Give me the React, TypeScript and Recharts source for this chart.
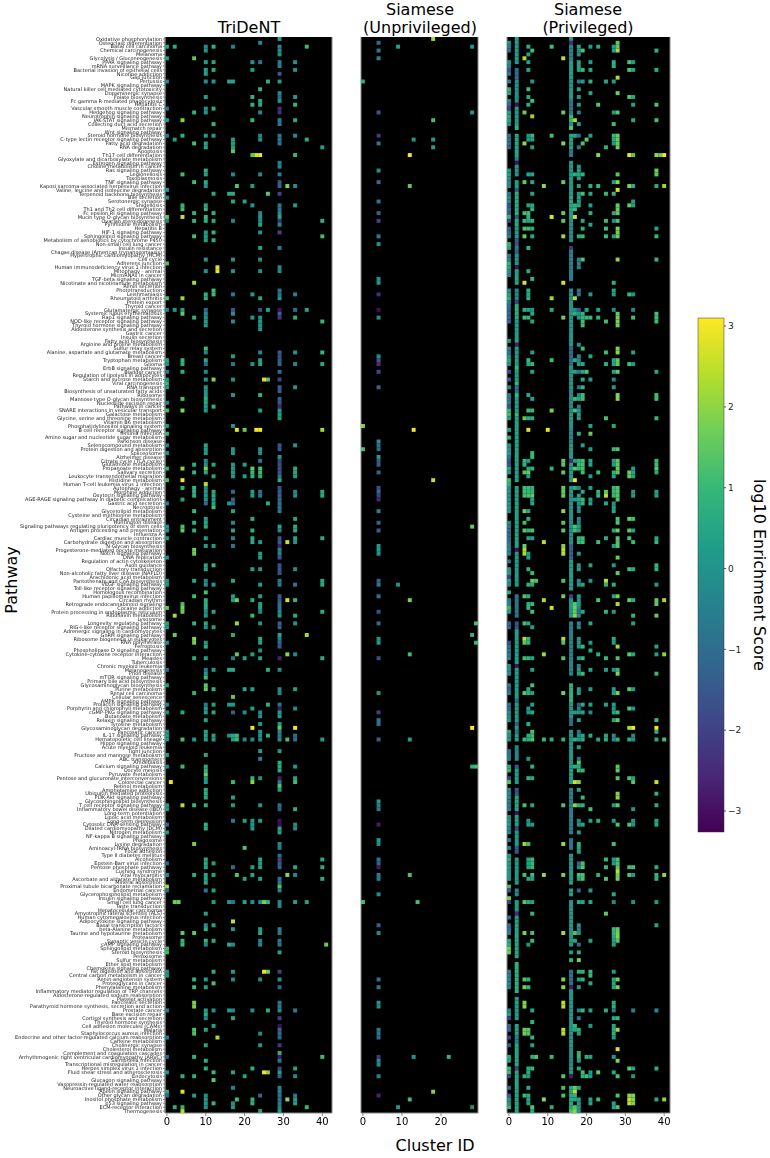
import React from 'react';
import { ScatterChart, Scatter, XAxis, YAxis, CartesianGrid, ReferenceLine, ReferenceArea } from 'recharts';

const PATHWAYS = [
  'Oxidative phosphorylation', 'Osteoclast differentiation', 'Basal cell carcinoma', 'Chemical carcinogenesis', 'Melanoma',
  'Glycolysis / Gluconeogenesis', 'PPAR signaling pathway', 'mRNA surveillance pathway', 'Bacterial invasion of epithelial cells', 'Nicotine addiction',
  'Gap junction', 'Pertussis', 'MAPK signaling pathway', 'Natural killer cell mediated cytotoxicity', 'Dopaminergic synapse',
  'Folate biosynthesis', 'Fc gamma R-mediated phagocytosis', 'Hepatitis C', 'Vascular smooth muscle contraction', 'Hedgehog signaling pathway',
  'Neurotrophin signaling pathway', 'JAK-STAT signaling pathway', 'Collecting duct acid secretion', 'Mismatch repair', 'Wnt signaling pathway',
  'Steroid hormone biosynthesis', 'C-type lectin receptor signaling pathway', 'Fatty acid degradation', 'RNA degradation', 'Apoptosis',
  'Th17 cell differentiation', 'Glyoxylate and dicarboxylate metabolism', 'Estrogen signaling pathway', 'Choline metabolism in cancer', 'Ras signaling pathway',
  'Legionellosis', 'Toxoplasmosis', 'TNF signaling pathway', 'Kaposi sarcoma-associated herpesvirus infection', 'Valine, leucine and isoleucine degradation',
  'Terpenoid backbone biosynthesis', 'Bile secretion', 'Serotonergic synapse', 'Shigellosis', 'Th1 and Th2 cell differentiation',
  'Fc epsilon RI signaling pathway', 'Mucin type O-glycan biosynthesis', 'Ovarian steroidogenesis', 'Pyrimidine metabolism', 'Hepatitis B',
  'HIF-1 signaling pathway', 'Sphingolipid signaling pathway', 'Metabolism of xenobiotics by cytochrome P450', 'Non-small cell lung cancer', 'Insulin resistance',
  'Chagas disease (American trypanosomiasis)', 'Hypertrophic cardiomyopathy (HCM)', 'Cell cycle', 'Adherens junction', 'Human immunodeficiency virus 1 infection',
  'Mitophagy - animal', 'MicroRNAs in cancer', 'TGF-beta signaling pathway', 'Nicotinate and nicotinamide metabolism', 'Renin secretion',
  'Phototransduction', 'Leishmaniasis', 'Rheumatoid arthritis', 'Protein export', 'Thyroid cancer',
  'Glutamatergic synapse', 'Systemic lupus erythematosus', 'Rap1 signaling pathway', 'NOD-like receptor signaling pathway', 'Thyroid hormone signaling pathway',
  'Aldosterone synthesis and secretion', 'Gastric cancer', 'Insulin secretion', 'Fatty acid biosynthesis', 'Arginine and proline metabolism',
  'Sulfur relay system', 'Alanine, aspartate and glutamate metabolism', 'Breast cancer', 'Tryptophan metabolism', 'Glioma',
  'ErbB signaling pathway', 'Bladder cancer', 'Regulation of lipolysis in adipocytes', 'Starch and sucrose metabolism', 'Viral carcinogenesis',
  'RNA transport', 'Biosynthesis of unsaturated fatty acids', 'Ribosome', 'Mannose type O-glycan biosynthesis', 'Nucleotide excision repair',
  'Pathways in cancer', 'SNARE interactions in vesicular transport', 'Galactose metabolism', 'Glycine, serine and threonine metabolism', 'Vitamin B6 metabolism',
  'Phosphatidylinositol signaling system', 'B cell receptor signaling pathway', 'Yersinia infection', 'Amino sugar and nucleotide sugar metabolism', 'Parkinson disease',
  'Selenocompound metabolism', 'Protein digestion and absorption', 'Spliceosome', 'Alzheimer disease', 'Citrate cycle (TCA cycle)',
  'Glutathione metabolism', 'Propanoate metabolism', 'Salivary secretion', 'Leukocyte transendothelial migration', 'Histidine metabolism',
  'Human T-cell leukemia virus 1 infection', 'Autophagy - animal', 'Morphine addiction', 'Oxytocin signaling pathway', 'AGE-RAGE signaling pathway in diabetic complications',
  'Gastric acid secretion', 'Necroptosis', 'Glycerolipid metabolism', 'Cysteine and methionine metabolism', 'Circadian entrainment',
  'Huntington disease', 'Signaling pathways regulating pluripotency of stem cells', 'Antigen processing and presentation', 'Influenza A', 'Cardiac muscle contraction',
  'Carbohydrate digestion and absorption', 'N-Glycan biosynthesis', 'Progesterone-mediated oocyte maturation', 'Notch signaling pathway', 'DNA replication',
  'Regulation of actin cytoskeleton', 'Axon guidance', 'Olfactory transduction', 'Non-alcoholic fatty liver disease (NAFLD)', 'Arachidonic acid metabolism',
  'Pantothenate and CoA biosynthesis', 'VEGF signaling pathway', 'Toll-like receptor signaling pathway', 'Homologous recombination', 'Human papillomavirus infection',
  'Circadian rhythm', 'Retrograde endocannabinoid signaling', 'Cocaine addiction', 'Protein processing in endoplasmic reticulum', 'Riboflavin metabolism',
  'Lysosome', 'Longevity regulating pathway', 'RIG-I-like receptor signaling pathway', 'Adrenergic signaling in cardiomyocytes', 'GnRH signaling pathway',
  'Ribosome biogenesis in eukaryotes', 'RNA polymerase', 'Ferroptosis', 'Phospholipase D signaling pathway', 'Cytokine-cytokine receptor interaction',
  'Measles', 'Tuberculosis', 'Chronic myeloid leukemia', 'Melanogenesis', 'Prion disease',
  'mTOR signaling pathway', 'Primary bile acid biosynthesis', 'Glycosaminoglycan biosynthesis', 'Purine metabolism', 'Renal cell carcinoma',
  'Cellular senescence', 'AMPK signaling pathway', 'Prolactin signaling pathway', 'Porphyrin and chlorophyll metabolism', 'cGMP-PKG signaling pathway',
  'Butanoate metabolism', 'Relaxin signaling pathway', 'Tyrosine metabolism', 'Glycosaminoglycan degradation', 'Pancreatic cancer',
  'IL-17 signaling pathway', 'Hematopoietic cell lineage', 'Hippo signaling pathway', 'Acute myeloid leukemia', 'Tight junction',
  'Fructose and mannose metabolism', 'ABC transporters', 'Amoebiasis', 'Calcium signaling pathway', 'Oocyte meiosis',
  'Pyruvate metabolism', 'Pentose and glucuronate interconversions', 'Colorectal cancer', 'Retinol metabolism', 'Amphetamine addiction',
  'Ubiquitin mediated proteolysis', 'PI3K-Akt signaling pathway', 'Glycosphingolipid biosynthesis', 'T cell receptor signaling pathway', 'Inflammatory bowel disease (IBD)',
  'Long-term potentiation', 'Lipoic acid metabolism', 'Long-term depression', 'Cytosolic DNA-sensing pathway', 'Dilated cardiomyopathy (DCM)',
  'Nitrogen metabolism', 'NF-kappa B signaling pathway', 'Phagosome', 'Lysine degradation', 'Aminoacyl-tRNA biosynthesis',
  'Focal adhesion', 'Type II diabetes mellitus', 'Alcoholism', 'Epstein-Barr virus infection', 'Pentose phosphate pathway',
  'Cushing syndrome', 'Viral myocarditis', 'Ascorbate and aldarate metabolism', 'Mineral absorption', 'Proximal tubule bicarbonate reclamation',
  'Endometrial cancer', 'Glycerophospholipid metabolism', 'Insulin signaling pathway', 'Small cell lung cancer', 'Taste transduction',
  'Hepatocellular carcinoma', 'Amyotrophic lateral sclerosis (ALS)', 'Human cytomegalovirus infection', 'Adipocytokine signaling pathway', 'Basal transcription factors',
  'beta-Alanine metabolism', 'Taurine and hypotaurine metabolism', 'Proteasome', 'Synaptic vesicle cycle', 'cAMP signaling pathway',
  'Sphingolipid metabolism', 'Steroid biosynthesis', 'Peroxisome', 'Sulfur metabolism', 'Ether lipid metabolism',
  'Chemokine signaling pathway', 'Fat digestion and absorption', 'Central carbon metabolism in cancer', 'Renin-angiotensin system', 'Proteoglycans in cancer',
  'Phenylalanine metabolism', 'Inflammatory mediator regulation of TRP channels', 'Aldosterone-regulated sodium reabsorption', 'Platelet activation', 'Pancreatic secretion',
  'Parathyroid hormone synthesis, secretion and action', 'Prostate cancer', 'Base excision repair', 'Cortisol synthesis and secretion', 'Thyroid hormone synthesis',
  'Cell adhesion molecules (CAMs)', 'Malaria', 'Staphylococcus aureus infection', 'Endocrine and other factor-regulated calcium reabsorption', 'Caffeine metabolism',
  'Cholinergic synapse', 'Cholesterol metabolism', 'Complement and coagulation cascades', 'Arrhythmogenic right ventricular cardiomyopathy (ARVC)', 'Salmonella infection',
  'Transcriptional misregulation in cancer', 'Herpes simplex virus 1 infection', 'Fluid shear stress and atherosclerosis', 'Endocytosis', 'Glucagon signaling pathway',
  'Vasopressin-regulated water reabsorption', 'Neuroactive ligand-receptor interaction', 'Apelin signaling pathway', 'Other glycan degradation', 'Inositol phosphate metabolism',
  'p53 signaling pathway', 'ECM-receptor interaction', 'Thermogenesis',
];

// [row, [col, value, col, value, ...]]
type RowCells = [number, number[]];

const TRIDENT_ROWS: RowCells[] = [
  [0, [29, .3]], [1, [24, -.3]], [2, [0, .5, 2, .7, 10, -.2, 12, .8, 17, -.5, 29, -.3, 36, 1]], [3, [10, 0, 29, -.2]], [4, [29, 0]],
  [5, [0, .3, 7, 1.5]], [6, [10, .3, 12, .5, 22, .1, 24, -.8, 29, -.5, 33, 0]], [7, [29, -.6]], [8, [10, .4, 12, .6, 22, .3, 33, 0]], [9, [10, .4, 29, -1.5]],
  [11, [0, -.2, 10, -.1, 12, .1, 16, .4, 17, .4, 26, .8, 29, .3]], [13, [24, .9]], [14, [29, -.3]], [15, [10, .3, 22, .8, 29, -1, 33, .2]], [16, [24, .5, 29, .1]],
  [17, [22, .9, 24, .6, 33, .9]], [18, [0, -.8, 10, 0, 12, .6, 29, -2.5]], [19, [7, .8, 10, .1, 24, -.2, 29, -2.5]], [21, [0, .3, 4, 1.9, 22, 1, 29, -.5, 33, .6]], [22, [12, .9, 29, -.7]],
  [25, [0, -.5, 4, .8, 10, .3, 12, .3, 24, -.3, 29, -.8, 33, -.2]], [26, [2, .3, 17, .3, 24, -.2, 29, -.8, 36, .7]], [27, [7, 1.2, 10, .5, 17, .3, 29, -.8]], [28, [10, .5, 17, .3, 40, .3]], [29, [17, 1.5]],
  [30, [22, 1.5, 23, 2.7, 24, 3, 33, 1]], [32, [29, -.5]], [33, [29, -.5]], [34, [10, .7]], [35, [4, 1.1, 10, .4, 17, -.3, 24, -.2, 29, -.5]],
  [37, [7, 1.1, 10, .6, 29, -1.5]], [38, [10, 0, 18, 1.4, 22, .3, 29, -1.3, 31, 1.9, 33, 0]], [39, [0, .2]], [40, [12, .6, 16, .6, 17, .6, 26, 1.5, 29, -2]], [41, [0, 0]],
  [42, [17, .5, 20, .4]], [43, [4, .9, 10, .5, 22, .2, 29, -.7, 33, .3]], [44, [4, 1.1, 10, .8, 29, -.7]], [45, [7, .9, 12, .8, 24, -.3, 29, -.2]], [46, [0, 1.5, 4, 2.6, 10, 1, 24, 0, 29, .5]],
  [47, [0, -.5, 7, .9, 10, .7, 12, .6, 17, -.5, 24, -.2, 29, -2.3, 40, .8]], [48, [24, .4, 29, -.3]], [50, [10, .2, 12, .8, 24, -.1, 29, -2]], [51, [7, 1.2, 10, .3, 40, 1.1]], [52, [10, .3, 12, .7]],
  [54, [24, .4, 29, -.5]], [57, [10, 0, 17, -.1, 24, -.1]], [58, [0, 1.3]], [59, [13, 2.8, 29, -.3]], [60, [10, .1, 13, 2.9, 17, 0, 24, 0, 29, -.3]],
  [63, [7, 2.3]], [65, [12, 1.1, 29, -.9]], [66, [10, .8, 12, 1.1, 17, -.7, 22, .2, 29, -.8, 33, -.4]], [67, [0, 1.3, 4, 2.1, 10, .8, 24, .5, 29, .1]], [70, [0, -.5, 2, .1, 4, .3, 10, -1.2, 17, -1.5, 24, -1.6, 26, .4, 29, -3, 33, -1, 36, .4]],
  [71, [4, 1.5, 10, -.1, 17, 0, 29, -1.3]], [72, [7, .8, 10, 0, 22, .2, 24, .1, 29, -2.2, 33, .7]], [73, [10, .2, 17, -.2, 24, .1, 40, .9]], [74, [10, .3, 24, .1]], [75, [24, .1]],
  [80, [10, 1.2]], [81, [10, -.3, 24, -.3, 29, -1.5, 33, 0, 40, 1]], [82, [17, .3, 29, -1.6]], [83, [0, .6, 4, .9, 10, .5, 24, .4, 29, -1.4]], [84, [0, 0, 4, .8, 10, -1, 17, -.8, 22, 0, 24, .5, 29, -1.2, 33, -.3, 40, .6]],
  [86, [0, -.6, 4, .8, 10, -.2, 29, -.9]], [88, [0, .1, 10, .1, 12, 1.9, 17, -.1, 25, 2.8, 26, 1.4, 29, -2]], [89, [0, 1]], [90, [0, .3, 10, .1, 29, -1.3, 33, 0]], [91, [10, .1, 29, -1.4]],
  [92, [10, .2, 17, 0, 24, .8]], [93, [4, 1.2, 10, .8, 29, -1.3]], [94, [0, -.3, 10, .5, 29, -1.5]], [95, [10, .3, 12, .8, 29, -2.5]], [96, [0, 1.2, 4, 1.9, 10, .2, 24, .3, 29, .2]],
  [97, [29, .4]], [98, [29, .4]], [100, [0, .3, 17, 0]], [101, [18, 2.9, 20, 1.6, 23, 3, 24, 3, 40, 2.2]], [102, [0, 1]],
  [105, [0, -.3, 10, .5, 29, -1.5, 33, .1]], [106, [10, .3, 17, .1, 24, .1, 29, -1.5]], [107, [0, .1, 10, .1, 17, .1, 24, -.1]], [108, [29, .1]], [109, [10, -.2, 24, -.7, 29, -2]],
  [110, [7, .8, 10, -.1, 12, .5, 17, .2, 20, .3, 29, -1.8]], [111, [0, .7, 4, 2, 10, 1.9, 17, .2, 22, 1.6, 24, 1.2, 29, -1.7, 33, .6]], [112, [7, .9, 10, .6, 17, .2, 22, 1, 24, 1, 29, -1.6, 33, .5]], [113, [12, .4, 17, .2, 20, .4, 22, .8, 24, .7, 29, -.8, 33, .3]], [114, [0, 1.3, 4, 3, 29, .7]],
  [115, [10, 2.4]], [116, [4, .9, 7, .9, 10, -.2, 29, -1.7]], [117, [7, .8, 10, 0, 12, .6, 17, -1, 22, .3, 24, -1, 29, -1.5, 33, -.3, 40, .6]], [118, [7, .8, 10, .1, 12, .5, 22, .3, 24, -.7, 29, -1.3, 33, -.2, 40, .6]], [119, [4, .4, 10, 0, 12, .3, 17, -1.3, 29, -1]],
  [120, [0, -.4, 10, -1, 12, .4, 16, 0, 17, -1, 26, .7, 29, -.9]], [121, [12, 1.2, 29, -.8]], [122, [7, 1, 17, .4, 29, -.8]], [124, [10, .3, 22, .7, 33, .4]], [125, [7, .8, 10, .5, 17, -.2]],
  [126, [0, .1, 4, 1.2, 10, .7, 29, .5, 33, .6]], [127, [0, .1, 4, 1.5, 7, .8, 17, .5, 22, .8, 29, -.3, 33, .5]], [129, [0, .2, 10, .2, 17, -.5, 22, .7, 29, -1.5, 33, .4, 40, .7]], [130, [22, .6, 24, .2, 29, -1.5, 31, 2.6, 33, .1]], [131, [10, .3, 12, .2, 17, -.8, 29, -2.7]],
  [132, [7, 1.7, 29, -.3]], [133, [7, 1.7, 24, .3, 29, -.5]], [134, [0, 0, 24, .3, 29, -1.5]], [136, [10, .5, 12, 1, 29, -1.6]], [137, [10, .5, 22, .4, 24, 0, 29, -1.6, 33, -.1]],
  [138, [29, -1.6]], [140, [0, .2, 7, .5, 10, -.3, 17, .5, 29, -.7, 40, .6]], [141, [0, .2, 10, -.1, 12, .2, 24, .3, 29, -.7, 33, -.7, 40, .6]], [143, [10, 1.2]], [144, [7, 1.1, 17, .3, 24, .3, 29, -1.5]],
  [145, [10, .7, 17, .2, 18, 1.7, 22, .6, 29, -1.5, 31, 2.7, 33, 1]], [146, [4, 1.2, 10, .7, 24, .4, 29, -.9]], [147, [0, 1.5, 4, 1.8, 10, .6, 24, .4, 29, -.7]], [148, [4, 1.6, 10, -.2, 12, .4, 24, -.3, 29, -.3, 40, .7]], [149, [2, 2.2, 10, .1, 22, 1, 29, 0, 33, .6]],
  [151, [0, .4, 7, .9, 10, .6, 18, 2.2, 24, 0, 29, -1.3, 33, .1]], [152, [0, .3, 10, 0, 12, .3, 29, -1.3]], [154, [2, 1.6, 17, .6, 29, .5, 36, 2.2]], [155, [7, 2, 24, .6, 29, -.5]], [156, [0, -.1, 7, 1.7, 10, .2, 24, .4, 29, -1.2]],
  [157, [10, .8, 29, -1.5]], [158, [24, 0]], [159, [18, 1.6, 22, .4, 31, 2, 33, -.2]], [160, [7, .7, 10, .3, 17, -.6, 20, .4, 24, .4, 29, -2.7, 40, .7]], [163, [0, -1, 10, -.7, 12, .2, 16, .6, 17, .6, 26, .7, 29, -.2]],
  [164, [10, .2]], [165, [10, 1.1]], [167, [0, .4, 10, 1.4]], [168, [10, 1.5, 12, .8, 20, .5, 22, .4, 29, -.3, 33, .3]], [169, [7, .8, 29, -.3]],
  [170, [17, 1.5]], [172, [0, -.2, 10, -.6, 12, .4, 16, .2, 17, .2, 26, .8, 29, -.7]], [173, [10, .2, 22, .4, 29, -2.8, 33, -.2]], [174, [0, -.2, 4, .5, 10, .3, 12, .5, 17, -1.4, 20, -.2, 24, -.2, 29, .3]], [175, [24, -.1, 29, .3]],
  [176, [10, .4]], [177, [24, .1, 29, .3]], [178, [22, 3, 29, 1.5, 33, 3]], [179, [0, .2, 10, .4, 24, -.1, 29, -.3]], [180, [0, .2, 10, .4, 12, .3, 16, -.1, 17, .5, 18, 1, 24, -.1, 26, .8, 29, -.4, 33, -1]],
  [181, [0, .3, 4, 1.2, 7, .2, 10, .3, 12, .2, 17, .3, 18, 1, 20, -.2, 22, -.2, 24, -.2, 29, -.1, 31, 1.2, 33, -1, 40, .2]], [184, [24, .3, 29, .2]], [185, [0, .3, 10, .5]], [186, [24, -.4]], [187, [29, .7]],
  [188, [0, -.1, 4, 1, 10, .6, 29, .7, 33, .1]], [189, [10, .9, 29, .7]], [190, [10, 1.7]], [191, [10, .3, 22, .8, 24, -.1, 29, -2.8, 33, .4]], [192, [1, 3, 10, .2, 17, 1, 22, 2, 29, -.7, 33, 1.1]],
  [193, [29, 1.3]], [194, [10, .7, 29, .2]], [195, [10, .7]], [196, [10, .5, 17, .4]], [198, [0, .3, 4, 2.5, 7, 1, 10, .8, 17, .2, 24, .1, 29, -1]],
  [199, [0, .2, 29, -1.2, 33, .7]], [202, [17, -.8, 20, .3, 22, .1, 24, .2, 29, -3]], [203, [0, -1, 10, .9, 22, .2, 29, -3.1, 33, -.2]], [204, [10, .7, 22, .2, 29, .4, 33, -.2]], [205, [0, .1, 29, .4]],
  [208, [7, 1.8, 29, -.4]], [209, [20, 1.3, 29, -.5]], [211, [29, -1]], [212, [10, .5, 24, .5, 29, -1.9, 40, .7]], [213, [0, -1.2, 10, .6, 12, .3, 24, .3, 29, -1.5]],
  [214, [10, .5, 17, -1, 22, .3, 24, .4, 29, -1.2, 33, .5, 40, .6]], [216, [0, -.2, 7, .7, 10, .5, 12, .4, 18, 1.3, 22, .5, 31, 2, 33, -.2]], [217, [10, .5, 20, .4, 24, .4, 29, -.8, 40, .7]], [218, [10, .5, 29, -.7]], [219, [0, 2.2, 29, 1.3]],
  [220, [0, -1, 10, -.8, 12, .3, 29, -.3]], [223, [2, 1.7, 3, 1.7, 12, .3, 16, .1, 17, -.8, 20, .5, 22, 0, 24, -.3, 25, 1.8, 26, .8, 29, -.3, 33, .3, 36, .4]], [224, [29, -.3]], [226, [10, .4]], [228, [17, 2.6]],
  [229, [10, -.2, 12, .4]], [230, [10, .8, 17, .1, 24, .3, 29, -.6]], [231, [4, 1.5, 7, 1.5, 24, .5, 29, -.6]], [233, [4, 1, 10, .9, 12, .6, 24, -.4, 29, -.8]], [234, [4, 1, 10, -.4, 16, .6, 17, -.3, 24, -.4, 29, -.8, 41, 1.6]],
  [235, [0, 1.1]], [236, [0, 1.1, 29, .4]], [241, [0, .2, 12, .7, 17, .2, 25, 2.9, 26, 1.6, 29, -2]], [242, [0, .2]], [243, [7, .9, 10, .3, 17, -.1, 24, -.2, 29, 0]],
  [244, [12, 1.3]], [245, [7, 1.1, 10, .4, 29, -1.2]], [249, [7, 1.8, 29, -.7]], [250, [7, 1.8, 29, -.7]], [251, [0, -.4, 10, .3, 12, -.1, 16, .2, 17, -.3, 22, 0, 26, .7, 29, -.1, 33, -.6]],
  [252, [10, .8]], [253, [10, -.3, 17, .6, 29, -2]], [255, [12, .4, 29, -3]], [256, [7, 1.3, 10, .5, 29, -1.2]], [257, [7, 1.3, 24, -.2, 29, -1.2]],
  [258, [0, -.5, 13, 2.3, 29, -1.2]], [260, [10, .5, 24, 0, 29, -2.2]], [262, [29, .8]], [263, [0, -1, 7, .9, 29, -2.8, 40, 1.1]], [264, [10, .7, 29, -.8]],
  [266, [10, .7, 22, .8, 29, -2, 33, .4]], [267, [0, .2, 12, 1, 17, .5, 25, 3, 26, 1.9, 29, .3]], [268, [4, .8, 7, .8, 20, .4, 29, -1.2, 33, -.2]], [269, [12, 1.5]], [271, [17, -.5, 29, -.4]],
  [272, [0, .8, 4, 2.8, 29, -.4]], [273, [0, -1, 7, .3, 10, 0, 24, -1.2, 29, -.8, 33, -.8]], [274, [10, .1, 18, 1.2, 22, .8, 29, -.8, 31, 2.1, 33, .3]], [275, [10, .1, 12, .9, 17, -.1, 22, .8, 29, -.6, 33, .3]], [276, [2, .7, 4, .8, 10, -.1, 17, .2, 29, -.4, 36, .9]],
  [277, [4, 2.3, 24, .4, 29, .2]],
];

const UNPRIVILEGED_ROWS: RowCells[] = [
  [0, [18, 2.2]], [1, [4, -1]], [2, [9, .4, 28, 0]], [3, [4, -.6]], [5, [4, -.3]], [11, [0, .6]], [19, [4, -1.5, 28, .1]], [21, [18, 1.2]], [25, [4, -2.2]],
  [26, [13, .1, 18, .2]], [27, [4, -.7]], [28, [18, .4]], [30, [12, 3]], [34, [4, -.1]], [37, [4, -1]], [38, [12, 1.5]], [42, [4, -.8]], [45, [4, -1.3]],
  [47, [4, -2]], [51, [4, -.6]], [53, [4, -.1]], [62, [4, 0]], [63, [4, 0]], [66, [4, -2.5]], [70, [4, -3]], [72, [4, -.2]], [82, [4, -.2]], [83, [4, -1.5]],
  [84, [4, -2.4]], [86, [4, -1.8]], [90, [4, -1.2]], [100, [0, 1.9]], [101, [13, 3]], [104, [4, -.1]], [105, [4, -1]], [106, [0, 1.3, 4, -1]], [108, [4, .2]],
  [109, [4, -1.4]], [110, [4, -1.4]], [112, [4, -1.2]], [114, [18, 2.5]], [116, [4, -1.8]], [117, [4, -1]], [118, [4, -2]], [119, [4, -2.6]], [122, [4, -.5]],
  [125, [4, -1.2]], [126, [28, 1.6]], [127, [4, -1.3]], [131, [4, .2]], [132, [4, .2]], [133, [4, 0]], [140, [4, -1.3]], [141, [4, -.8, 9, 0]], [144, [4, -.8]],
  [145, [12, 1.8]], [148, [4, -1.7]], [151, [4, -1, 29, 1.2]], [154, [28, .9]], [155, [4, .1]], [156, [4, .2, 29, 1]], [159, [12, 1.1]], [160, [4, -1.7]],
  [169, [4, 0]], [174, [4, -2]], [176, [4, -.7]], [177, [4, -.7]], [178, [28, 3.1]], [181, [4, -1.3, 12, .3]], [188, [28, .8, 29, 1.2]], [197, [4, .1]],
  [198, [4, -.6]], [199, [4, -.7]], [203, [4, -2.8]], [207, [4, .1]], [208, [4, -.2]], [212, [4, -.9]], [213, [4, -1.2]], [214, [4, -2.8]], [216, [4, -.6, 12, 1.3]],
  [217, [4, -.7]], [221, [4, -.2]], [223, [0, 1.2, 14, 1.2]], [229, [4, -1.3]], [231, [4, -.3]], [243, [4, -1]], [245, [4, -.8]], [249, [4, .1]], [250, [4, -.2]],
  [256, [4, -.6]], [257, [4, -.8]], [258, [4, -1]], [263, [4, -2.3, 13, .1, 22, .9]], [264, [4, -.2]], [265, [4, -.2]], [268, [4, -.4]], [272, [18, 1.9]],
  [273, [4, -2.6]], [274, [12, 1.1]], [276, [9, .1, 28, -.2]],
];

const PRIVILEGED_ROWS: RowCells[] = [
  [1, [28, 1.5]], [2, [5, .7, 11, 1.1, 18, .4, 21, .3, 23, .6, 27, .3, 28, 1.5]], [3, [6, 1.1, 18, -.1, 19, 1.3, 27, .3, 28, 2.2, 38, .8]], [4, [5, .3, 18, -.1]], [5, [4, 2.4, 14, 2.5]],
  [6, [5, .4, 18, .3, 21, .3, 27, .8, 31, 1.3, 32, .3]], [7, [18, .4, 27, .8]], [8, [5, .5, 18, .4, 19, 1, 21, .5, 31, 1.3, 32, .5, 38, .7]], [10, [28, 2.3]], [11, [6, .1, 18, -.8, 19, .2, 21, .8, 25, .5, 27, .3]],
  [13, [5, 1.1, 18, .4]], [14, [21, .5, 28, 1.7]], [15, [5, .5, 18, .1, 31, 1.4, 32, .5]], [16, [6, 1.1]], [17, [5, .7, 18, .2, 23, 1.4, 32, .4, 38, 1.3]],
  [19, [4, 1.6, 14, 1.6, 18, -.5, 27, .3, 28, 1.4]], [20, [6, 2.1]], [21, [17, 2.2, 32, .5, 38, 1.2]], [22, [18, .1, 27, 1.1]], [25, [5, 0, 6, 1, 11, 1.2, 17, .5, 18, -1, 21, .3, 27, 1, 28, 1.6]],
  [26, [5, .1, 6, .3, 20, 1.5, 27, .7, 28, 1.6]], [27, [4, 2.1, 14, 2, 19, 1.3, 27, .3, 28, 1.5]], [28, [6, .3, 18, -.8, 25, .8, 28, 1.7]], [30, [23, 2, 31, 2.9, 32, 1.5, 38, 2.1, 39, 1.6, 40, 3.1]], [33, [18, .2]],
  [34, [18, .3, 38, 1.6]], [35, [5, .4, 6, .5, 17, .7, 18, .5, 19, .8, 28, 1.4, 38, 1.5]], [36, [18, .2]], [37, [4, 1.5, 6, .6, 14, 1.6, 27, .3, 28, 2]], [38, [9, 2.1, 18, .3, 21, .8, 23, 1, 31, 1.9, 32, .7, 38, .7, 40, 2.2]],
  [39, [28, 2.8]], [40, [6, .4, 18, .1, 19, 1.2, 21, .5, 25, 1, 27, .9]], [41, [18, .3]], [42, [18, .3, 32, .3]], [43, [5, .4, 6, .5, 17, .7, 18, .5, 21, .3, 28, 1.5, 31, 1.5, 32, .3]],
  [44, [6, .8, 17, 1, 28, 1.6]], [45, [4, 1.1, 5, 1.1, 14, 1.6, 21, .7, 27, .6, 28, 1.5]], [46, [5, .8, 11, 2.8, 17, 2.6]], [47, [4, 1, 5, .5, 6, .9, 14, 1.5, 19, .5, 25, 1, 27, -.2, 28, 1.3]], [48, [21, .5]],
  [49, [4, 1.3, 5, 1.1, 6, .7, 19, .7, 25, 1.2, 28, 1.8, 38, .4]], [50, [28, 1.7]], [51, [4, 1.6, 6, .5, 14, 2.2, 18, .7, 19, .9, 25, 1.1, 27, .2, 28, 1.7, 38, 1]], [54, [5, .8]], [57, [18, -.5, 19, 1.3, 28, 2, 38, .9]],
  [58, [18, -.4]], [59, [18, -.4]], [60, [5, .6]], [62, [6, .9]], [63, [4, 2.8, 14, 2.7, 27, .8]],
  [65, [5, .7, 18, -.8, 27, .4]], [66, [5, .5, 18, -.8, 21, .2, 27, .3, 31, 1, 32, .1]], [67, [5, .8, 11, 2.2, 17, 2.3]], [70, [4, .7, 5, .4, 6, .2, 11, .6, 17, -.2, 18, -1.5, 20, .6, 23, .4, 27, -.3, 32, -.3]], [71, [6, .5, 17, .8, 18, 0, 19, .9, 28, 1.6, 38, 1.2]],
  [72, [4, 1.1, 5, .9, 14, 1.7, 18, .1, 19, .9, 20, 1, 21, 1, 23, .8, 28, 1.7, 32, 1.2, 38, 1.1]], [73, [6, .5, 19, 1.1, 25, 1.1, 28, 1.7, 38, 1.1]], [74, [19, 1.1, 28, 1.7]], [79, [18, 0]], [80, [19, 1.1, 28, 1.8]],
  [81, [6, .4, 25, 1.1, 28, 2, 32, .4]], [82, [18, -.3, 21, .5]], [83, [5, 1, 11, 1.1, 17, .6, 18, -.5, 27, .5, 28, 1.5]], [84, [5, .5, 6, .9, 18, .2, 19, .5, 25, .8, 27, .5, 28, 1.5, 31, 1.1, 32, .2]], [86, [6, .4, 17, .5, 18, -.7, 19, .5, 20, 1.3, 27, .5, 28, 1.5, 38, .5]],
  [88, [19, .6, 21, .2, 27, -.2]], [90, [18, -1, 19, .9, 27, .2]], [92, [5, .5, 18, -.5, 19, 1.1, 28, 1.9, 38, 1.1]], [93, [6, .4, 17, 1, 18, .4, 19, 1.1, 28, 1.9, 38, 1.1]], [95, [18, -.8]],
  [96, [5, 1, 6, 1, 11, 1.8, 17, 1.3, 18, .1]], [97, [18, .2]], [98, [4, 1.5, 5, .7, 6, .7, 18, .2, 25, 1.2, 38, 1]], [100, [21, .4, 27, .5]], [101, [5, 2.8, 10, 2.9]],
  [102, [18, .8, 21, 1.6]], [105, [19, .4]], [106, [21, .3, 27, 1, 28, 1.3]], [107, [6, 1]], [108, [6, 1]],
  [109, [4, .9, 5, .3, 14, 1.5, 17, .3, 18, .8, 19, 1.2, 21, .5, 27, .4, 28, 1.5, 38, 1]], [110, [4, .9, 14, 1.5, 18, 1, 19, 1.2, 21, .5, 27, .3, 28, 1.5, 38, 1.1]], [111, [5, .5, 6, .8, 11, .9, 17, 1.5, 18, .8, 19, 1.2, 28, 1.6, 32, .3, 38, 1.5]], [112, [4, 1.4, 5, 1.6, 14, 1.5, 19, 1.1, 23, 1, 27, .8, 28, 1.5, 31, 1.6, 32, .4, 38, .6]], [113, [5, .4, 21, .3, 27, .4, 31, 1.5, 32, .4]],
  [114, [17, 3]], [116, [4, 1.1, 5, 1.1, 6, .8, 14, 1.6, 17, .6, 18, -.4, 21, .3, 27, 1, 28, 1.3]], [117, [4, 1.1, 5, .9, 6, .9, 14, 1.5, 19, .5, 23, .9, 25, 1.5, 27, 1, 28, 1.3, 32, .1, 38, .4]], [118, [4, 1.1, 5, 1.2, 6, 1.5, 14, 1.6, 18, .3, 23, .9, 25, 2.5, 27, 1, 28, 1.3, 32, .1, 38, .4]], [119, [6, .5, 17, .2, 18, .4, 19, 1, 21, .3, 28, 1.3]],
  [120, [6, .5, 18, -.1, 19, .9, 21, .5, 25, .6, 27, -.1]], [121, [18, -.1, 27, .4]], [122, [4, 1.7, 5, .6, 14, 2.1, 18, -.1, 27, .5]], [124, [5, .7, 18, -.3, 28, 1.3, 31, 1.6, 32, 1.1]], [125, [4, 1.1, 14, 1.4, 18, -.5, 28, 1.3]],
  [126, [17, 1.3, 18, .3]], [127, [4, 1.4, 5, .9, 6, 1.3, 14, 1.5, 17, 1.2, 18, .3, 27, .5, 28, 1.7, 31, 1.5, 32, .4]], [129, [5, .3, 6, .4, 18, .9, 19, 1, 25, .7, 28, 1.4, 31, 1.2, 38, .5]], [130, [9, 2.4, 18, .9, 19, 1.1, 23, 1.1, 28, 1.3, 32, 1, 38, 1]], [131, [4, 1.7, 14, 1.9, 27, .3, 28, 1.4]],
  [132, [4, 2.3, 14, 2.4]], [133, [4, 2.2, 5, .3, 14, 2.5, 18, .2]], [134, [5, .4, 28, 1.5]], [136, [18, .1, 21, .4, 27, .2, 38, .9]], [137, [5, .7, 18, .3, 31, 1.1, 32, .7, 38, .9]],
  [138, [6, 1, 28, 1.5]], [140, [6, 1.7, 7, 1.3, 14, 1.3, 18, -.2, 21, .1, 25, 2.5]], [141, [5, .8, 6, .6, 18, .1, 19, .5, 25, .8, 27, .8, 38, .2]], [144, [4, 1.4, 5, .8, 14, 1.7, 18, .1, 27, .4, 28, 1.8]], [145, [9, 2.3, 18, 0, 23, 1.3, 31, 1.6, 32, .7, 38, 1.5, 40, 2.3]],
  [146, [5, .7, 6, .9, 17, 1.4, 18, .2, 28, 2.3, 38, 1.5]], [147, [5, .9, 11, 2.7, 17, 1.7, 18, -.5]], [148, [6, 1.2, 17, 1.5, 18, -1, 19, .6, 25, .9, 27, .2]], [149, [17, 2, 18, -.5, 32, .9, 38, 1.6]], [151, [4, 1.2, 5, .6, 18, -.3, 21, .5, 32, .4]],
  [152, [6, .3, 18, -.3]], [155, [4, 2.5, 5, .9, 14, 2.4, 18, .1, 27, .6]], [156, [4, 1.4, 5, .9, 14, 1.3, 18, .1, 21, .2, 27, .3]], [157, [18, .1, 19, 1, 28, 2.2, 38, .5]], [158, [21, .7]],
  [159, [9, 2.2, 23, .8, 31, 1.5, 32, .5, 38, .3, 40, 2]], [160, [4, 1.1, 5, .9, 6, .5, 14, 1.3, 18, .2, 19, .9, 25, 1, 28, 1.3]], [162, [18, -.4]], [163, [6, .3, 18, .1, 21, .4, 25, .4, 27, .1, 28, .9]], [164, [18, .3, 19, 1.1, 28, 1.9, 38, 1]],
  [167, [6, 1.2]], [168, [5, .5, 18, .3, 21, .3, 27, .3, 31, 1.5, 32, .3]], [169, [4, 1.4, 5, .7, 6, .4, 14, 1.8, 18, .3, 27, .4, 28, 1.8]], [172, [6, .3, 18, -1.5, 19, .6, 21, .4, 25, .4, 27, .3]], [173, [5, .1, 18, -.6, 27, .1, 31, 1.3, 32, .2]],
  [174, [5, .1, 6, .6, 17, .3, 18, .1, 19, .5, 21, -.3, 27, .5, 28, 1]], [176, [18, .4, 27, .5, 28, 1.6, 38, 1.1]], [177, [5, .7]], [178, [31, 2.2, 32, 3, 38, 3.1]], [179, [6, 1.3, 18, -.7, 38, .8]],
  [180, [5, .7, 6, 1, 18, -.1, 19, .5, 21, .7, 25, .5, 27, -.2, 32, -.2]], [181, [4, 1, 5, .6, 6, 1.4, 9, 1, 11, .7, 14, .8, 17, .8, 18, .1, 19, .7, 23, .5, 25, .6, 27, -.1, 28, .8, 31, .7, 32, -.1, 38, .6, 40, 1.2]], [183, [18, .3]], [186, [5, .1, 18, -1]], [187, [18, 1.4]],
  [188, [6, .7, 17, .8, 18, .6, 28, 1.4]], [189, [18, .9, 19, .9, 28, 1.5]], [191, [5, .9, 6, .7, 28, 1.4, 31, 1.3, 32, .4]], [192, [17, 2.7, 18, 1.9, 32, 1.4, 38, 2.6]], [194, [18, .5]],
  [195, [28, 1.9, 38, .8]], [196, [19, 1, 28, 2]], [198, [4, 1.2, 6, .5, 14, 1.3, 17, 2, 18, .7, 19, .8, 27, .2, 28, 1.6, 38, .6]], [199, [21, 1.2, 32, .1]], [202, [5, 0, 18, -.3, 21, .3, 23, .6, 27, .1, 32, .2, 38, .5]],
  [203, [5, .2, 6, .2, 18, .1, 19, .5, 28, 1.3, 31, 1.3, 32, .1, 38, .5]], [205, [18, .3]], [208, [4, 2.1, 5, 1.1, 14, 2.2, 18, .8, 27, 1.2]], [209, [18, .5]], [210, [18, .4]],
  [212, [5, .4, 6, 1, 25, 1, 27, .3, 28, 1.2]], [213, [5, .4, 6, 1, 18, -1.3, 19, 1.2, 27, .3, 28, 1.2]], [214, [5, .4, 6, 1, 18, -.3, 19, 1.4, 25, 1, 28, 1.5, 31, 1.1, 32, 1.2, 38, .6]], [215, [28, 2.4]], [216, [4, 1.2, 6, 1.1, 9, 2.1, 14, 1.8, 18, 1.2, 19, 1.2, 23, .8, 28, 1.7, 31, 1.3, 32, .3, 38, .9, 40, 2]],
  [217, [5, .5, 6, .4, 18, .4, 19, 1.2, 25, 1.3, 28, 1.7, 38, .9]], [220, [18, -1.3, 21, .2]], [221, [27, .7]], [223, [4, 1.4, 5, .6, 6, .5, 18, .6, 19, .5, 21, .5, 27, -.2, 32, 0, 38, .2]], [226, [6, 1, 25, 1.5]],
  [229, [18, 0, 38, .4]], [230, [18, -.4, 27, 1, 28, 1.5]], [231, [4, 1.8, 6, 1.2, 14, 2.3, 17, 1.3, 18, -.2, 27, .8, 28, 1.8]], [232, [27, .5, 28, 1.9]], [233, [6, 1, 17, .5, 21, .3, 27, .3, 28, 1.3]],
  [234, [5, .1, 18, -1, 27, .3]], [236, [18, .7]], [238, [18, 1.9]], [241, [18, .8, 19, .8, 21, 1, 27, .2]], [242, [21, 1]],
  [243, [4, 1.3, 5, .8, 14, 1.9, 18, .3, 19, .9, 27, .5, 28, 1.7]], [244, [21, .6, 27, .5]], [245, [4, 1.8, 5, .9, 14, 2.1, 18, .2, 27, .5, 28, 1.8]], [249, [4, 1.9, 14, 2.4, 27, .7]], [250, [4, 1.9, 14, 2.4, 27, .7]],
  [251, [6, .5, 18, -.5, 19, 1, 21, .4, 25, .6, 27, -.5, 32, -.5, 38, -.2]], [253, [18, -.9, 27, .6, 28, 1]], [254, [6, .9]], [255, [17, 1, 21, .2, 27, .5]], [256, [4, 1.7, 5, 1.5, 14, 2.4, 17, .5, 18, .8, 27, .7, 28, 2.1]],
  [257, [4, 1.7, 5, 1.3, 14, 2.4, 18, .3, 27, .7]], [258, [6, .9, 27, .2]], [260, [6, .4]], [261, [28, 2.7]], [262, [18, .8]],
  [263, [6, .7, 7, 1.4, 11, 1, 18, 1, 20, .8, 21, .4, 27, .2]], [264, [18, .2, 28, 1.9]], [266, [5, .6, 6, 1, 18, .5, 31, 1.5, 32, .5, 38, .7]], [267, [5, .7, 19, 1.1, 21, .3, 23, 1.5, 27, .6]], [268, [4, .7, 5, .2, 14, 1.4, 19, .8, 20, 1.2, 21, .3, 28, 1.3, 32, .1]],
  [271, [5, .6, 14, 1.2, 17, 1.6, 18, .3]], [272, [17, 2.4]], [273, [4, 1, 5, .7, 14, 1.2, 17, .8, 28, 1.3, 31, 2, 32, 1.9]], [274, [5, .4, 9, 2.1, 17, .5, 18, .3, 21, .5, 23, 1, 31, 2.4, 32, 1.9, 38, .6, 40, 2]], [275, [5, .4, 18, .3, 21, .5, 27, .4, 31, 2.5, 32, 1.9]],
  [276, [6, 1.4, 11, .6, 17, 1.4, 18, .1, 27, .5, 28, 1.3]], [277, [6, .5, 17, 2, 18, 0]],
];

// cluster 0 of the privileged panel: [row, value]
const PRIVILEGED_C0: number[][] = [
  [1, 0], [2, -.5], [3, -1], [6, 0], [7, -.5], [8, -1.5], [9, -.8], [11, -.5], [13, .7], [14, .4], [16, -.3], [17, -1], [18, -2], [19, .3], [20, .6], [21, .5], [22, -.2],
  [25, -.8], [26, -1], [27, -1], [28, -1.3], [34, .3], [35, .3], [36, -.2], [37, -.3], [38, -.3], [40, -.6], [41, -.3], [42, -.3], [43, -1.5], [44, -1], [45, -1.4], [46, .9], [47, -2],
  [49, -1.3], [50, -1], [51, -.6], [53, .9], [54, .4], [56, -.5], [57, -.5], [58, .8], [59, .4], [60, .1], [61, -.3], [65, 0], [66, .3], [67, .7], [68, -.5],
  [69, -1], [70, -1.3], [71, -1.2], [72, -1.3], [73, -1.3], [78, .1], [80, -.5], [81, -.8], [82, 0], [83, .5], [84, -.1], [86, -1.7], [88, -1.2], [90, -.2],
  [92, -.8], [93, -.7], [94, -.5], [95, -1.5], [96, 1], [97, 1.1], [98, .3], [101, .4], [103, .8], [105, 0], [106, .1], [107, .2], [108, -.8], [109, -1.5], [110, -1.5], [111, .4], [112, .1],
  [114, 1.1], [115, .8], [116, 0], [117, 0], [118, -.1], [119, 0], [120, 0], [121, .1], [122, 0], [125, -.3], [126, -.6], [127, -.9], [128, -1], [129, -1], [130, -.8], [131, -.6], [132, -.5], [133, -.4],
  [135, -1], [137, .2], [138, .2], [139, -2], [140, .3], [141, -.1], [143, .6], [145, -.5], [146, -.3], [147, 1], [148, .2], [151, -1.2], [152, -1.2],
  [156, -1.8], [157, -1], [158, -.8], [159, -.7], [160, -.5], [162, 0], [163, -.1], [164, -.1], [167, -.7], [168, -1.4], [169, -.7],
  [172, -.9], [173, -1], [174, -.2], [175, -.2], [176, .1], [179, .7], [180, .2], [181, .2], [184, -.8], [185, -.8], [186, -.6], [188, .7], [189, .9], [191, -2], [192, 1.3],
  [194, -.2], [195, -.2], [196, -.2], [197, -.6], [198, -.7], [199, -.5], [201, 0], [202, .1], [203, .2], [204, -.3], [205, -.3], [207, -.7], [209, -.5],
  [211, .2], [212, .6], [213, .2], [214, .2], [215, .1], [216, .2], [217, .1], [219, 1.2], [220, -1.5], [222, 1.8], [223, -2], [227, -.8], [229, -1], [230, -.9], [231, -.6],
  [233, .6], [234, .6], [235, 1.7], [236, 1.7], [241, -.5], [242, -.5], [243, -.3], [244, -.4], [245, -.5], [251, -.5], [252, .3], [253, -2], [255, -1.2], [256, -1.1], [258, -2], [260, -1.5],
  [263, .7], [264, .4], [266, 1], [267, 1], [268, -2], [271, -1], [273, -1.3], [274, .1], [275, .1], [276, 1],
];

// clusters 2 and 16 of the privileged panel are nearly solid: [first row, last row, value]
const PRIVILEGED_C2: number[][] = [
  [0, 6, .3], [8, 10, -1], [11, 16, 0], [17, 17, -3], [18, 22, .2], [23, 23, .9], [25, 30, .5], [31, 31, -.5], [32, 32, -3], [33, 35, .1], [37, 38, .3], [39, 39, -1.5], [40, 45, .7], [46, 46, -1.6],
  [47, 48, .6], [49, 51, .2], [52, 53, -1.5], [54, 54, -.6], [55, 55, -1.3], [56, 58, .2], [59, 59, -3], [60, 63, .4], [65, 67, -.3], [68, 68, -2], [69, 72, .7], [73, 77, .2], [78, 78, .5], [79, 79, -2.8],
  [80, 84, .2], [85, 85, 1], [86, 88, .3], [89, 89, 1], [90, 91, -.8], [92, 92, 1], [93, 96, .3], [97, 97, 1], [98, 114, .4], [116, 131, .4], [132, 132, -3], [133, 141, .2], [144, 149, -.8], [151, 152, -1.6],
  [153, 161, .3], [162, 162, -3], [163, 170, .3], [171, 171, -1], [172, 176, .3], [177, 177, -1.5], [178, 178, .3], [179, 179, -.8], [180, 181, .3], [183, 186, -.3], [188, 188, -1.5], [189, 192, .3],
  [194, 195, -1.5], [196, 199, .5], [200, 200, -3], [201, 203, .3], [204, 204, -2], [205, 208, .2], [209, 210, -1.5], [212, 218, .2], [220, 221, -.3], [223, 225, .3], [226, 226, -2.5], [227, 228, .3],
  [229, 237, .5], [239, 246, .8], [248, 253, .3], [255, 257, .4], [258, 259, -.5], [260, 265, .5], [266, 266, -2], [267, 277, .5],
];

const PRIVILEGED_C16: number[][] = [
  [0, 0, .2], [1, 1, -2.5], [2, 5, -.3], [6, 10, .3], [11, 12, 0], [13, 15, .2], [16, 19, -.7], [20, 21, 1], [22, 22, 0], [23, 23, 1.4], [25, 28, .4], [29, 30, -.7], [32, 40, .2], [41, 44, .5], [45, 46, .2],
  [47, 52, -.1], [54, 54, -2.2], [55, 62, -.5], [65, 68, 0], [69, 79, .1], [80, 84, -1], [85, 90, .1], [91, 96, -.2], [97, 100, .2], [101, 104, -.3], [105, 108, .2], [109, 109, -2.5], [110, 114, .3],
  [116, 122, .1], [123, 130, 0], [131, 134, -1.3], [135, 142, .3], [144, 144, -2], [145, 149, .2], [151, 164, -.4], [167, 171, .8], [172, 175, .1], [176, 177, -1], [179, 187, .1], [188, 192, .3],
  [194, 205, -.5], [207, 209, -.8], [211, 218, .2], [220, 221, .3], [223, 234, .1], [236, 236, .1], [238, 238, .8], [241, 244, -.8], [245, 245, -2.8], [246, 260, .1], [261, 265, -.2], [266, 267, .2],
  [268, 268, -2.8], [271, 276, .5], [277, 277, 1.3],
];

const CLUSTER_TICKS = [0, 10, 20, 30, 40];
const SCORE_TICKS = [3, 2, 1, 0, -1, -2, -3];

const VMIN = -3.26;
const VMAX = 3.1;
const ROWS = 278;
const CELL = 3.95;
const VIRIDIS = ['#440154', '#482878', '#3e4989', '#31688e', '#26828e', '#1f9e89', '#35b779', '#6ece58', '#b5de2b', '#fde725'];
const FONT = '"DejaVu Sans", sans-serif';
const rowTicks = PATHWAYS.map((_, i) => i);

function hexToRgb(hex: string) {
  return [1, 3, 5].map(i => parseInt(hex.slice(i, i + 2), 16));
}

function viridis(value: number) {
  const t = Math.min(1, Math.max(0, (value - VMIN) / (VMAX - VMIN))) * (VIRIDIS.length - 1);
  const i = Math.min(VIRIDIS.length - 2, Math.floor(t));
  const a = hexToRgb(VIRIDIS[i]);
  const b = hexToRgb(VIRIDIS[i + 1]);
  const c = a.map((v, k) => Math.round(v + (b[k] - v) * (t - i)));
  return `rgb(${c[0]},${c[1]},${c[2]})`;
}

function fromRows(rows: RowCells[]) {
  const points: { row: number; col: number; value: number }[] = [];
  rows.forEach(([row, pairs]) => {
    for (let i = 0; i < pairs.length; i += 2) points.push({ row, col: pairs[i], value: pairs[i + 1] });
  });
  return points;
}

function fromRuns(col: number, runs: number[][]) {
  const points: { row: number; col: number; value: number }[] = [];
  runs.forEach(([first, last, value]) => {
    for (let row = first; row <= last; row++) points.push({ row, col, value });
  });
  return points;
}

const privilegedPoints = [
  ...fromRows(PRIVILEGED_ROWS),
  ...PRIVILEGED_C0.map(([row, value]) => ({ row, col: 0, value })),
  ...fromRuns(2, PRIVILEGED_C2),
  ...fromRuns(16, PRIVILEGED_C16),
];

function CellShape(props: any) {
  const { cx, cy, payload } = props;
  return <rect x={cx - CELL / 2} y={cy - CELL / 2} width={CELL} height={CELL} fill={viridis(payload.value)} />;
}

// the default tick wraps long names, this one keeps them on one line
function RowTick(props: any) {
  const { x, y, payload } = props;
  return (
    <text x={x} y={y} dy="0.35em" textAnchor="end" fontSize={5} fill="#222">
      {PATHWAYS[payload.value]}
    </text>
  );
}

function NoMark() {
  return null;
}

interface PanelProps {
  left: number;
  width: number;
  marginLeft: number;
  marginRight: number;
  columns: number;
  data: { row: number; col: number; value: number }[];
  showLabels?: boolean;
}

function HeatmapPanel({ left, width, marginLeft, marginRight, columns, data, showLabels = false }: PanelProps) {
  return (
    <div style={{ position: 'absolute', left, top: 0, filter: 'blur(0.3px)' }}>
      <ScatterChart width={width} height={1158} margin={{ top: 37, right: marginRight, bottom: 0, left: marginLeft }}>
        <CartesianGrid fill="#000" fillOpacity={1} stroke="none" horizontal={false} vertical={false} />
        <XAxis
          type="number"
          dataKey="col"
          domain={[-0.5, columns - 0.5]}
          ticks={CLUSTER_TICKS.filter(t => t < columns)}
          interval={0}
          height={45}
          tick={{ fontSize: 10, fill: '#000' }}
          tickSize={3}
          tickMargin={2}
          stroke="#888"
        />
        <YAxis
          type="number"
          dataKey="row"
          reversed
          domain={[-0.5, ROWS - 0.5]}
          ticks={showLabels ? rowTicks : []}
          interval={0}
          width={showLabels ? 165 : 0}
          hide={!showLabels}
          tick={<RowTick />}
          tickSize={2}
          tickMargin={1}
          stroke="#888"
        />
        <Scatter data={data} shape={<CellShape />} isAnimationActive={false} />
        <ReferenceLine x={-0.5} stroke="#888" />
        <ReferenceLine x={columns - 0.5} stroke="#888" />
      </ScatterChart>
    </div>
  );
}

function Colorbar() {
  return (
    <div style={{ position: 'absolute', left: 690, top: 0 }}>
      <ScatterChart width={60} height={1158} margin={{ top: 318, right: 0, bottom: 326, left: 8 }}>
        <defs>
          <linearGradient id="viridisBar" x1="0" y1="1" x2="0" y2="0">
            {VIRIDIS.map((c, i) => (
              <stop key={c} offset={i / (VIRIDIS.length - 1)} stopColor={c} />
            ))}
          </linearGradient>
        </defs>
        <XAxis type="number" dataKey="x" domain={[0, 1]} hide />
        <YAxis
          type="number"
          dataKey="y"
          orientation="right"
          domain={[VMIN, VMAX]}
          ticks={SCORE_TICKS}
          interval={0}
          width={26}
          tick={{ fontSize: 9, fill: '#222' }}
          tickSize={2}
          tickMargin={2}
          tickFormatter={(v: number) => String(v).replace('-', '\u2212')}
          axisLine={false}
          stroke="#555"
        />
        <ReferenceArea x1={0} x2={1} y1={VMIN} y2={VMAX} fill="url(#viridisBar)" fillOpacity={1} stroke="#333" strokeWidth={0.5} />
        <Scatter data={[{ x: 0, y: VMIN }, { x: 1, y: VMAX }]} shape={<NoMark />} isAnimationActive={false} />
      </ScatterChart>
    </div>
  );
}

const textBase: React.CSSProperties = {
  position: 'absolute',
  fontFamily: FONT,
  color: '#000',
  whiteSpace: 'pre',
  textAlign: 'center',
  fontSize: 16,
  lineHeight: '18px',
};

export default function App() {
  return (
    <div style={{ position: 'absolute', left: 0, top: 0, width: 770, height: 1158, background: '#fff', fontFamily: FONT, overflow: 'hidden' }}>
      <HeatmapPanel left={0} width={340} marginLeft={0} marginRight={8} columns={43} data={fromRows(TRIDENT_ROWS)} showLabels />
      <HeatmapPanel left={355} width={130} marginLeft={6} marginRight={7} columns={30} data={fromRows(UNPRIVILEGED_ROWS)} />
      <HeatmapPanel left={500} width={180} marginLeft={7} marginRight={10} columns={42} data={privilegedPoints} />
      <Colorbar />

      <div style={{ ...textBase, left: 149, width: 200, top: 19 }}>TriDeNT</div>
      <div style={{ ...textBase, left: 320, width: 200, top: 1 }}>{'Siamese\n(Unprivileged)'}</div>
      <div style={{ ...textBase, left: 488, width: 200, top: 1 }}>{'Siamese\n(Privileged)'}</div>
      <div style={{ ...textBase, left: 335, width: 200, top: 1137 }}>Cluster ID</div>
      <div style={{ ...textBase, left: -88, width: 200, top: 571, transform: 'rotate(-90deg)' }}>Pathway</div>
      <div style={{ ...textBase, left: 609, width: 300, top: 566, transform: 'rotate(90deg)' }}>log10 Enrichment Score</div>
    </div>
  );
}
